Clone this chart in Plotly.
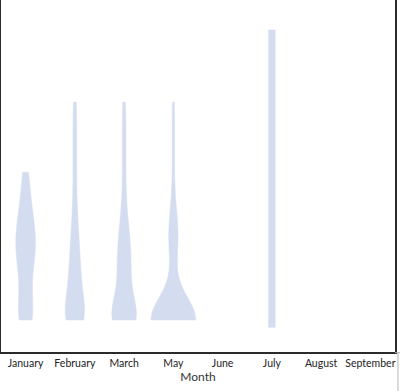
import plotly.graph_objects as go

# Category axis (all months shown on the axis)
months = ["January", "February", "March", "May", "June", "July", "August", "September"]

# Sample values per month (hidden value axis, 0-100 scale)
jan_values = [9.1, 9.1, 10, 12, 14, 20, 23, 26, 28, 30, 31, 32, 34, 36, 39, 42, 46, 51.1]
feb_values = [9.1, 9.1, 9.1, 9.1, 9.1, 9.4, 10.7, 12.0, 13.4, 14.8, 16.2, 17.8, 19.4, 21.0,
              22.8, 24.7, 26.7, 28.9, 31.3, 34.0, 37.2, 41.3, 47, 53, 59, 65, 71]
mar_values = [9.1, 9.1, 9.1, 9.1, 9.1, 9.1, 9.1, 9.1, 9.1, 9.4, 10.7, 12.0, 13.4, 14.8,
              16.2, 17.8, 19.4, 21.0, 22.8, 24.7, 25.5, 26.7, 28.9, 29.5, 31.3, 34.0, 36,
              37.2, 41.3, 47, 53, 59, 65, 71]
may_values = [9.1, 9.1, 9.1, 9.1, 9.1, 9.1, 9.1, 9.1, 9.1, 9.1,
              9.1, 9.1, 9.1, 9.1, 9.1, 9.1, 9.1, 9.1, 9.1, 9.1,
              9.1, 9.1, 9.1, 9.1, 9.1, 9.1, 9.1, 9.1, 9.1, 9.1,
              9.1, 9.1, 9.1, 9.1, 9.1, 9.1, 9.1, 9.1, 9.1, 9.1,
              24, 27, 30, 32, 33, 34, 34, 35, 37, 40, 48, 56, 64, 71]
jul_values = [7.0, 30, 50, 70, 91.5]

series = [
    ("January", jan_values, 6.0, 0.40),
    ("February", feb_values, 5.0, 0.39),
    ("March", mar_values, 5.0, 0.50),
    ("May", may_values, 6.5, 0.91),
    ("July", jul_values, 500.0, 0.136),
]

fill = "#d4ddf0"

fig = go.Figure()
for name, vals, bw, w in series:
    fig.add_trace(go.Violin(
        y=vals, x0=name, name=name, scalegroup=name, scalemode="width",
        spanmode="hard", bandwidth=bw, width=w, points=False,
        fillcolor=fill, line=dict(color=fill, width=0.5), opacity=1,
        showlegend=False, hoverinfo="skip",
    ))

fig.update_layout(
    width=400, height=391,
    margin=dict(l=1, r=5, t=0, b=39),
    paper_bgcolor="white", plot_bgcolor="white",
    violinmode="overlay",
    font=dict(family="Lato, Segoe UI, sans-serif", size=10.5, color="#222"),
    xaxis=dict(
        type="category", categoryorder="array", categoryarray=months,
        range=[-0.5, 7.5], showgrid=False, zeroline=False,
        showline=True, linecolor="#2b2b2b", linewidth=2, mirror=False, ticks="",
        title=dict(text="Month", standoff=4, font=dict(size=12, color="#333")),
    ),
    yaxis=dict(
        range=[0, 100], showgrid=False, zeroline=False, showticklabels=False,
        showline=True, linecolor="#2b2b2b", linewidth=2, mirror=True, ticks="",
    ),
    shapes=[
        dict(type="line", xref="paper", yref="paper", x0=1.0076, x1=1.0076,
             y0=0, y1=-0.12, line=dict(color="#b8b8b8", width=1)),
        dict(type="line", xref="paper", yref="paper", x0=1.0, x1=1.02,
             y0=-0.002, y1=-0.002, line=dict(color="#b8b8b8", width=1)),
    ],
)

fig.write_html("out.html", config={"displayModeBar": False},
               post_script="document.body.style.margin='0';document.body.style.overflow='hidden';")
